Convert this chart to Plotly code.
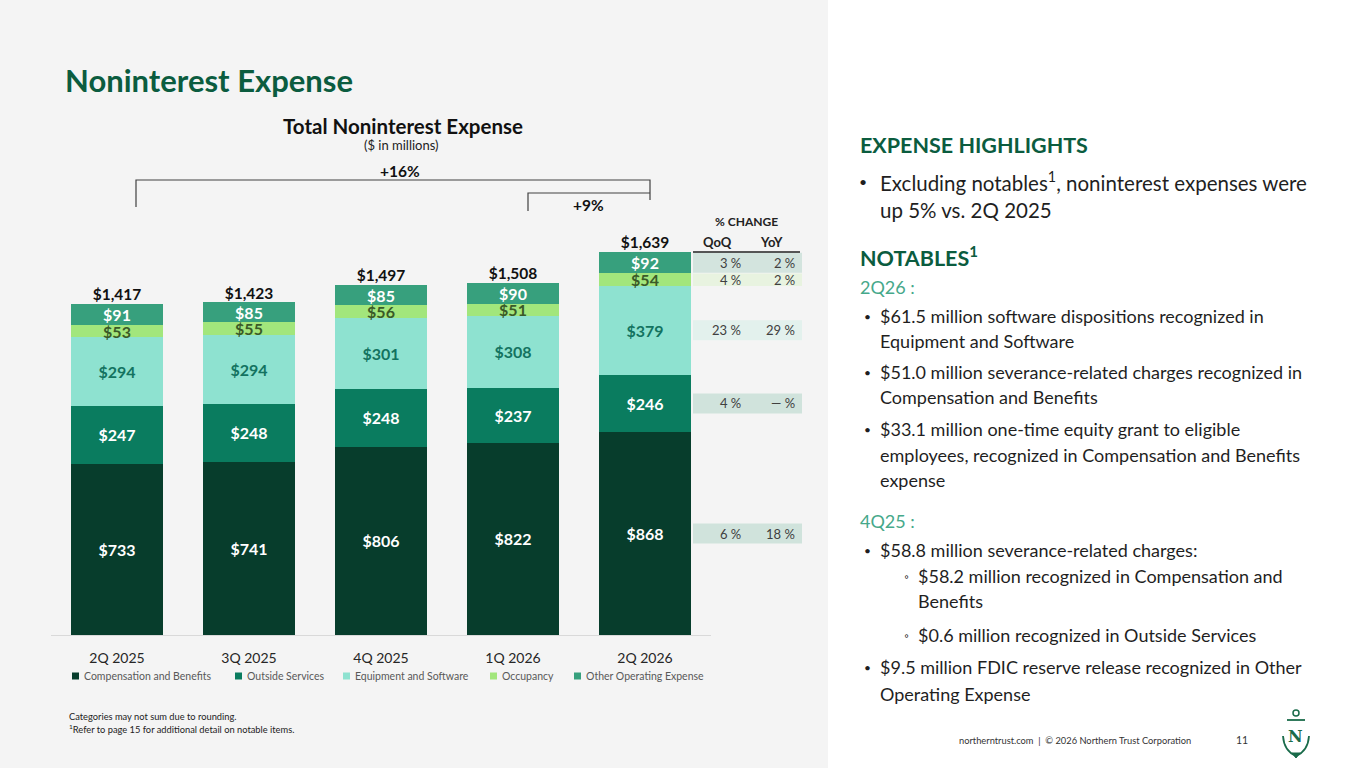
import plotly.graph_objects as go

################################################################################
# Data

quarters = ["2Q 2025", "3Q 2025", "4Q 2025", "1Q 2026", "2Q 2026"]
comp_benefits = [733, 741, 806, 822, 868]
outside_services = [247, 248, 248, 237, 246]
equip_software = [294, 294, 301, 308, 379]
occupancy = [53, 55, 56, 51, 54]
other_operating = [91, 85, 85, 90, 92]
totals = [1417, 1423, 1497, 1508, 1639]

# % change table for 2Q 2026 (bottom segment first)
qoq_change = ["6 %", "4 %", "23 %", "4 %", "3 %"]
yoy_change = ["18 %", "— %", "29 %", "2 %", "2 %"]

series_names = ["Compensation and Benefits", "Outside Services",
                "Equipment and Software", "Occupancy", "Other Operating Expense"]
series_values = [comp_benefits, outside_services, equip_software, occupancy, other_operating]

################################################################################
# Styling

FONT = "Lato"
bar_colors = ["#073d2c", "#0a7c5f", "#8ee2d0", "#a2e67c", "#37a07d"]
label_colors = ["#ffffff", "#ffffff", "#137360", "#3a5a28", "#ffffff"]
row_colors = ["#d0e3dc", "#d0e3dc", "#e3f1ed", "#e8f3e0", "#d3e4de"]
GREEN = "#0b5c3f"
TEAL = "#46a88a"
TEXT = "#1f1f1f"

W, H = 1365, 768
L, R, T, B = 51, 711, 100, 635   # plot area in pixels
PX_PER_UNIT = 0.2337


def px(x):
    return (x - L) / (R - L)


def py(y):
    return (B - y) / (B - T)


def label(text, x, y, size, color="#222222", anchor="center", family=FONT):
    return dict(text=text, x=px(x), y=py(y), xref="paper", yref="paper",
                xanchor=anchor, yanchor="middle", showarrow=False,
                font=dict(family=family, size=size, color=color))


fig = go.Figure()

for name, vals, col, lcol in zip(series_names, series_values, bar_colors, label_colors):
    fig.add_trace(go.Bar(
        x=quarters, y=vals, name=name,
        marker=dict(color=col, line=dict(width=0)),
        text=[f"${v}" for v in vals], textposition="inside",
        insidetextanchor="middle", constraintext="none",
        textfont=dict(family=FONT, size=16, color=lcol, weight="bold"),
        showlegend=False,
    ))

fig.add_trace(go.Scatter(
    x=quarters, y=totals, mode="text",
    text=[f"${v:,}" for v in totals], textposition="top center",
    textfont=dict(family=FONT, size=15.5, color="#111111", weight="bold"),
    cliponaxis=False, showlegend=False,
))

shapes = []
annotations = []

# right panel white background
shapes.append(dict(type="rect", xref="paper", yref="paper", layer="below",
                   x0=px(828), x1=px(W + 5), y0=py(H + 5), y1=py(-5),
                   fillcolor="#ffffff", line=dict(width=0)))

# brackets
shapes.append(dict(type="path", xref="paper", yref="paper",
                   path=f"M {px(136)},{py(207)} L {px(136)},{py(180)} L {px(650)},{py(180)} L {px(650)},{py(200)}",
                   line=dict(color="#404040", width=1.2)))
shapes.append(dict(type="path", xref="paper", yref="paper",
                   path=f"M {px(528)},{py(211)} L {px(528)},{py(193)} L {px(650)},{py(193)}",
                   line=dict(color="#404040", width=1.2)))
annotations.append(label("<b>+16%</b>", 400, 171, 15.5, "#111111"))
annotations.append(label("<b>+9%</b>", 588, 205, 15.5, "#111111"))

# % change table beside the last bar
annotations.append(label("<b>% CHANGE</b>", 747, 222, 12))
annotations.append(label("<b>QoQ</b>", 718, 242, 13))
annotations.append(label("<b>YoY</b>", 771, 242, 13))
shapes.append(dict(type="line", xref="paper", yref="paper", x0=px(693), x1=px(800),
                   y0=py(252), y1=py(252), line=dict(color="#222222", width=1.5)))

half_row = 10 / PX_PER_UNIT
base = 0
for vals, qoq, yoy, rcol in zip(series_values, qoq_change, yoy_change, row_colors):
    seg = vals[-1]
    mid = base + seg / 2
    shapes.append(dict(type="rect", xref="paper", yref="y", layer="below",
                       x0=px(693), x1=px(802),
                       y0=max(base, mid - half_row), y1=min(base + seg, mid + half_row),
                       fillcolor=rcol, line=dict(width=0)))
    for txt, tx in ((qoq, 743), (yoy, 797)):
        annotations.append(dict(text=txt, x=px(tx), y=mid, xref="paper", yref="y",
                                xanchor="right", yanchor="middle", showarrow=False,
                                font=dict(family=FONT, size=13, color="#404040")))
    base += seg

# legend (drawn by hand to match slide spacing)
legend_x = [72, 235, 343, 490, 574]
for name, col, lx in zip(series_names, bar_colors, legend_x):
    shapes.append(dict(type="rect", xref="paper", yref="paper",
                       x0=px(lx), x1=px(lx + 7), y0=py(679.5), y1=py(672.5),
                       fillcolor=col, line=dict(width=0)))
    annotations.append(label(name, lx + 10, 676, 10.5, "#595959", anchor="left"))

# titles
annotations.append(label("<b>Noninterest Expense</b>", 63, 80, 31, GREEN, anchor="left"))
annotations.append(label("<b>Total Noninterest Expense</b>", 403, 126, 20.5, "#111111"))
annotations.append(label("($ in millions)", 401, 145, 13, "#222222"))

# footnotes
annotations.append(label("Categories may not sum due to rounding.", 67, 716, 9.3, anchor="left"))
annotations.append(label("<sup>1</sup>Refer to page 15 for additional detail on notable items.",
                         67, 729, 9.3, anchor="left"))

# right panel text
BODY = 18
panel_lines = [
    # (x, y, text, size, color)
    (858, 145, "<b>EXPENSE HIGHLIGHTS</b>", 21.5, GREEN),
    (857, 181, "•", 14, TEXT),
    (878, 181, "Excluding notables<sup>1</sup>, noninterest expenses were", 20.5, TEXT),
    (878, 210, "up 5% vs. 2Q 2025", 20.5, TEXT),
    (858, 256, "<b>NOTABLES<sup>1</sup></b>", 21.5, GREEN),
    (858, 287, "2Q26 :", BODY, TEAL),
    (862, 316, "•", 12, TEXT),
    (878, 316, "$61.5 million software dispositions recognized in", BODY, TEXT),
    (878, 341, "Equipment and Software", BODY, TEXT),
    (862, 372, "•", 12, TEXT),
    (878, 372, "$51.0 million severance-related charges recognized in", BODY, TEXT),
    (878, 397, "Compensation and Benefits", BODY, TEXT),
    (862, 429, "•", 12, TEXT),
    (878, 429, "$33.1 million one-time equity grant to eligible", BODY, TEXT),
    (878, 455, "employees, recognized in Compensation and Benefits", BODY, TEXT),
    (878, 480, "expense", BODY, TEXT),
    (858, 521, "4Q25 :", BODY, TEAL),
    (862, 550, "•", 12, TEXT),
    (878, 550, "$58.8 million severance-related charges:", BODY, TEXT),
    (902, 576, "◦", 12, TEXT),
    (916, 576, "$58.2 million recognized in Compensation and", BODY, TEXT),
    (916, 601, "Benefits", BODY, TEXT),
    (902, 635, "◦", 12, TEXT),
    (916, 635, "$0.6 million recognized in Outside Services", BODY, TEXT),
    (862, 667, "•", 12, TEXT),
    (878, 667, "$9.5 million FDIC reserve release recognized in Other", BODY, TEXT),
    (878, 694, "Operating Expense", BODY, TEXT),
]
for lx, ly, txt, size, col in panel_lines:
    annotations.append(label(txt, lx, ly, size, col, anchor="left"))

# footer
annotations.append(label("northerntrust.com  |  © 2026 Northern Trust Corporation", 1193, 740, 9.3,
                         "#333333", anchor="right"))
annotations.append(label("11", 1242, 740, 10.5, "#333333"))

# simple anchor logo
LOGO = "#1a6b4a"
shapes.append(dict(type="circle", xref="paper", yref="paper", x0=px(1293), x1=px(1299),
                   y0=py(716), y1=py(710), line=dict(color=LOGO, width=1.5)))
shapes.append(dict(type="line", xref="paper", yref="paper", x0=px(1287), x1=px(1305),
                   y0=py(720), y1=py(720), line=dict(color=LOGO, width=1.8)))
shapes.append(dict(type="path", xref="paper", yref="paper",
                   path=(f"M {px(1283)},{py(736)} Q {px(1284)},{py(751)} {px(1296)},{py(756)} "
                         f"Q {px(1308)},{py(751)} {px(1309)},{py(736)}"),
                   line=dict(color=LOGO, width=1.8)))
shapes.append(dict(type="path", xref="paper", yref="paper",
                   path=f"M {px(1292)},{py(753)} L {px(1296)},{py(758)} L {px(1300)},{py(753)} Z",
                   fillcolor=LOGO, line=dict(color=LOGO, width=1)))
annotations.append(label("<b>N</b>", 1295, 736, 16, LOGO, family="DejaVu Serif"))

fig.update_layout(
    width=W, height=H,
    margin=dict(l=L, r=W - R, t=T, b=H - B, pad=0),
    paper_bgcolor="#f4f4f4", plot_bgcolor="#f4f4f4",
    barmode="stack", bargap=0.3,
    font=dict(family=FONT, color="#222222"),
    shapes=shapes, annotations=annotations,
    xaxis=dict(showgrid=False, showline=True, linecolor="#d9d9d9", linewidth=1,
               ticks="", ticklabelstandoff=10,
               tickfont=dict(family=FONT, size=14, color="#262626")),
    yaxis=dict(range=[0, (B - T) / PX_PER_UNIT], visible=False, showgrid=False),
)

fig.write_html("out.html", config={"displayModeBar": False},
               post_script="document.body.style.margin='0px';")
